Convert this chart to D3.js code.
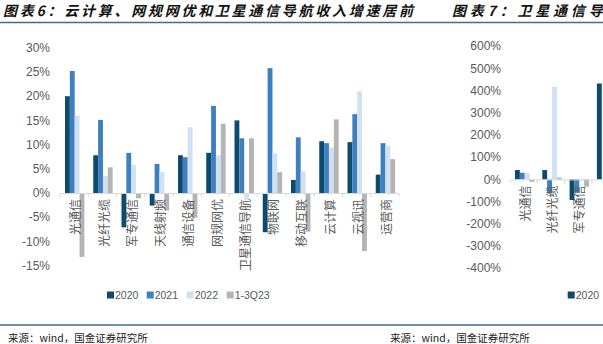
<!DOCTYPE html>
<html><head><meta charset="utf-8">
<script src="https://cdn.jsdelivr.net/npm/d3@7"></script>
<style>
html,body{margin:0;padding:0;background:#fff;overflow:hidden;}
text{font-family:"Liberation Sans",Arial,sans-serif;}
.cjk{font-family:"Noto Sans CJK SC",sans-serif;}
</style></head>
<body>
<svg id="c" width="603" height="344"></svg>
<script>
// ---------- data (chart 6) ----------
const categories = ["光通信","光纤光缆","军专通信","天线射频","通信设备","网规网优","卫星通信导航","物联网","移动互联","云计算","云视讯","运营商"];
const seriesNames = ["2020","2021","2022","1-3Q23"];
const s2020 = [20.0, 7.8, -7.1, -2.6, 7.8, 8.3, 15.0, -8.1, 2.7, 10.7, 10.5, 3.8];
const s2021 = [25.2, 15.1, 8.3, 6.0, 7.4, 18.0, 11.3, 25.8, 11.5, 10.3, 16.3, 10.3];
const s2022 = [16.0, 3.5, 5.8, 4.3, 13.6, 7.8, -1.4, 8.2, 4.5, 9.4, 21.0, 9.7];
const sQ23  = [-13.2, 5.3, -1.1, -3.6, -5.1, 14.3, 11.3, 4.3, -8.0, 15.2, -12.0, 7.0];
const yTicks = [30, 25, 20, 15, 10, 5, 0, -5, -10, -15];

// ---------- data (chart 7, partially visible) ----------
const categories7 = ["光通信","光纤光缆","军专通信","卫星通信导航"];
const t2020 = [42, 42, -93, 432];
const t2021 = [30, -63, -60, null];
const t2022 = [30, 417, -5, null];
const tQ23  = [-11, 8, -33, null];
const yTicks7 = [600, 500, 400, 300, 200, 100, 0, -100, -200, -300, -400];

const colors = ["#0c4a6e","#3f7fbf","#cfe1f3","#b4b4b4"];
const tickColor = "#595959";

const svg = d3.select("#c");

// header & footer rules
svg.append("line").attr("x1",0).attr("x2",603).attr("y1",22.5).attr("y2",22.5)
  .attr("stroke","#3f6f8e").attr("stroke-width",1.5);
svg.append("line").attr("x1",0).attr("x2",603).attr("y1",325).attr("y2",325)
  .attr("stroke","#3f6f8e").attr("stroke-width",1.5);

// titles
svg.append("text").attr("class","cjk").attr("x",3).attr("y",16)
  .attr("font-size",14).attr("font-weight","bold").attr("font-style","italic")
  .attr("textLength",410).attr("lengthAdjust","spacing").attr("fill","#111")
  .text("图表6：云计算、网规网优和卫星通信导航收入增速居前");
svg.append("text").attr("class","cjk").attr("x",452).attr("y",16)
  .attr("font-size",14).attr("font-weight","bold").attr("font-style","italic")
  .attr("letter-spacing",3.8).attr("fill","#111")
  .text("图表7：卫星通信导航");

// sources
svg.append("text").attr("class","cjk").attr("x",8).attr("y",342)
  .attr("font-size",10.5).attr("fill","#222").text("来源：wind，国金证券研究所");
svg.append("text").attr("class","cjk").attr("x",390).attr("y",342)
  .attr("font-size",10.5).attr("fill","#222").text("来源：wind，国金证券研究所");

function drawChart(g, cats, series, ticks, yDomain, yRange, xRange, labelX, fmt, bw) {
  const y = d3.scaleLinear().domain(yDomain).range(yRange);
  const x = d3.scaleBand().domain(cats).range(xRange).paddingInner(0).paddingOuter(0);
  const xi = d3.scaleBand().domain(seriesNames).range([5, 5 + bw*4]);

  g.selectAll("text.yt").data(ticks).join("text").attr("class","yt")
    .attr("x", labelX).attr("y", d => y(d)).attr("dy","0.35em")
    .attr("text-anchor","end").attr("font-size",12).attr("fill",tickColor)
    .text(fmt);

  series.forEach((vals, si) => {
    g.selectAll("rect.s"+si).data(cats.map((c,i)=>({c, v: vals[i]})).filter(d=>d.v!=null))
      .join("rect").attr("class","s"+si)
      .attr("x", d => x(d.c) + xi(seriesNames[si]))
      .attr("width", xi.bandwidth())
      .attr("y", d => y(Math.max(0, d.v)))
      .attr("height", d => Math.abs(y(d.v) - y(0)))
      .attr("fill", colors[si]);
  });

  const ax = g.append("g").attr("transform", `translate(0,${y(0)})`)
    .call(d3.axisBottom(x).tickSize(0).tickFormat(""));
  ax.select(".domain").attr("stroke","#d9d9d9").attr("stroke-width",1);
  ax.selectAll(".tick").remove();
  g.selectAll("line.bt").data(cats.concat(["__end"])).join("line").attr("class","bt")
    .attr("x1", (d,i) => xRange[0] + i*x.step()).attr("x2", (d,i) => xRange[0] + i*x.step())
    .attr("y1", y(0)).attr("y2", y(0)+4).attr("stroke","#d9d9d9");

  g.selectAll("text.cl").data(cats.filter(d => x(d) + x.bandwidth()/2 + 8 < 603)).join("text").attr("class","cl cjk")
    .attr("transform", d => `translate(${x(d) + x.bandwidth()/2 + 2},${y(0)+6}) rotate(-90)`)
    .attr("text-anchor","end").attr("dy","0.35em")
    .attr("font-size",12).attr("fill",tickColor).text(d => d);
  return {x, y};
}

const g6 = svg.append("g");
drawChart(g6, categories, [s2020, s2021, s2022, sQ23], yTicks,
  [-15, 30], [265.6, 47.8], [60, 399], 50, d => d + "%", 4.85);

const g7 = svg.append("g");
drawChart(g7, categories7, [t2020, t2021, t2022, tQ23], yTicks7,
  [-400, 600], [268.2, 46.2], [510, 510 + 27.3*4], 501, d => d + "%", 4.85);

function legend(x0, items, gap) {
  const lg = svg.append("g").attr("transform", `translate(${x0},0)`);
  let cx = 0;
  items.forEach((name, i) => {
    if (x0 + cx < 603) {
      lg.append("rect").attr("x", cx).attr("y", 291.5).attr("width", 7).attr("height", 7).attr("fill", colors[i]);
      lg.append("text").attr("x", cx + 8).attr("y", 299).attr("font-size", 10.5)
        .attr("fill", tickColor).text(name);
    }
    cx += gap[i];
  });
}
legend(107, seriesNames, [39.7, 40, 40, 40]);
legend(567.7, seriesNames, [39.7, 40, 40, 40]);
</script>
</body></html>
